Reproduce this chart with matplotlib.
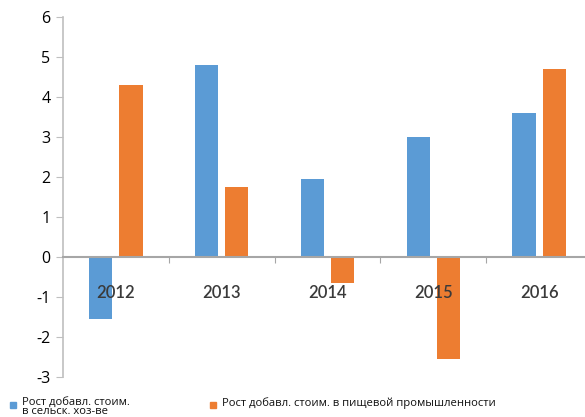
import matplotlib
matplotlib.use('Agg')
import matplotlib.pyplot as plt
from matplotlib.patches import Rectangle
import numpy as np

# ─── Data ────────────────────────────────────────────────────────────────────
years = ['2012', '2013', '2014', '2015', '2016']
agri = [-1.55, 4.8, 1.95, 3.0, 3.6]
food = [4.3, 1.75, -0.65, -2.55, 4.7]
label_agri = 'Рост добавл. стоим.\nв сельск. хоз-ве'
label_food = 'Рост добавл. стоим. в пищевой промышленности'

BLUE = '#5B9BD5'
ORANGE = '#ED7D31'
FONT = ['Open Sans', 'DejaVu Sans']

plt.rcParams['font.family'] = FONT
plt.rcParams['axes.unicode_minus'] = False

W, H = 585, 417
fig = plt.figure(figsize=(W / 100, H / 100), dpi=100, facecolor='white')
ax = fig.add_axes([63 / W, 40 / H, 529 / W, 360 / H])

x = np.arange(len(years))
w = 0.22
b1 = ax.bar(x - 0.143, agri, w, color=BLUE, label=label_agri)
b2 = ax.bar(x + 0.143, food, w, color=ORANGE, label=label_food)

ax.set_xlim(-0.5, len(years) - 0.5)
ax.set_ylim(-3, 6)
ax.set_yticks(range(-3, 7))
ax.tick_params(axis='y', length=5, color='#bfbfbf', labelsize=11.5, pad=4,
               labelcolor='black')

# zero line with category separators
for s in ['top', 'right']:
    ax.spines[s].set_visible(False)
ax.spines['left'].set_color('#bfbfbf')
ax.spines['left'].set_linewidth(1.2)
ax.spines['bottom'].set_position(('data', 0))
ax.spines['bottom'].set_color('#a6a6a6')
ax.spines['bottom'].set_linewidth(1.5)
ax.set_xticks(x[:-1] + 0.5)
ax.set_xticklabels([])
ax.tick_params(axis='x', which='major', length=4, color='#a6a6a6', direction='out')
ax.set_xticks(x, minor=True)
ax.set_xticklabels(years, minor=True)
ax.tick_params(axis='x', which='minor', length=0, pad=20, labelsize=12,
               labelcolor='#3a3a3a')
for t in ax.get_xticklabels(minor=True):
    t.set_family(['Lato', 'DejaVu Sans'])
    t.set_fontweight('semibold')

# legend drawn by hand: two entries on one line
for px, bar, txt in [(10, b1, label_agri), (210, b2, label_food)]:
    fig.patches.append(Rectangle((px / W, (H - 408) / H), 6 / W, 6 / H,
                                 transform=fig.transFigure,
                                 color=bar.patches[0].get_facecolor()))
    fig.text((px + 12) / W, (H - 397) / H, txt, fontsize=8.1, va='top',
             ha='left', linespacing=0.78, color='#111111')

fig.savefig('out.png', dpi=100, facecolor='white')
